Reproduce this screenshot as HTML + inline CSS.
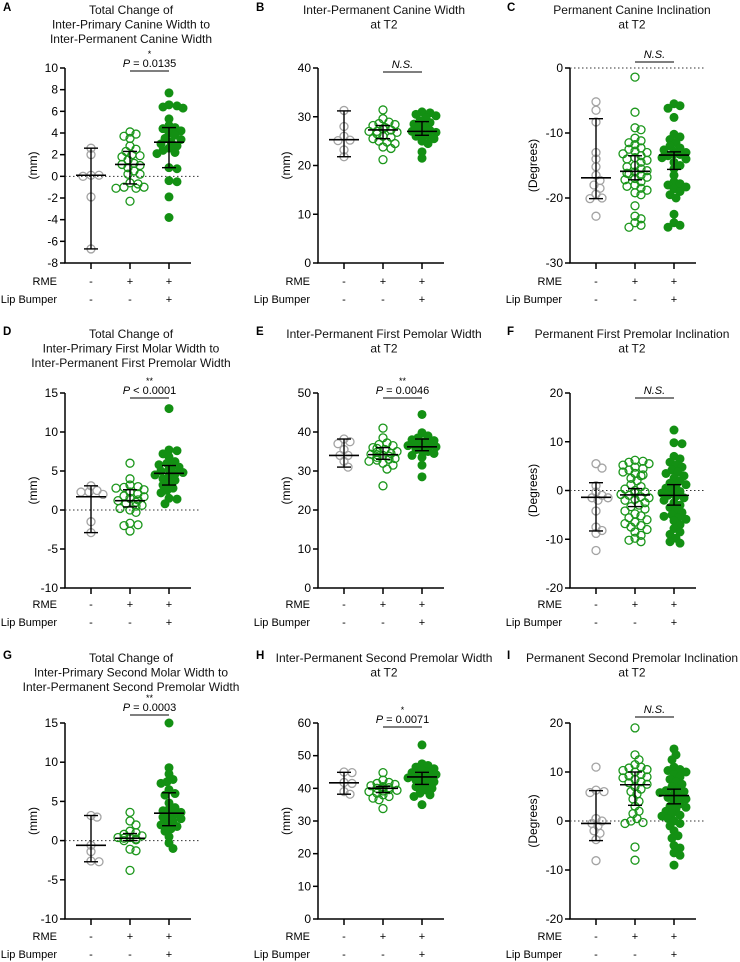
<!DOCTYPE html>
<html><head><meta charset="utf-8"><style>
html,body{margin:0;padding:0;background:#fff;}
svg{display:block;font-family:"Liberation Sans",Arial,sans-serif;}
</style></head><body>
<svg id="fig" width="740" height="962" viewBox="0 0 740 962" xmlns="http://www.w3.org/2000/svg"></svg>
<script>
// ---- data ----
const rmeLabels=['-','+','+'];
const lipLabels=['-','-','+'];
const A_g1=[2.6,2.0,0.1,0.1,0.0,-1.9,-6.7];
const A_g2=[4.1,3.9,3.7,3.5,2.8,2.5,2.3,2.0,1.9,1.8,1.5,1.2,1.1,1.0,0.8,0.2,0.2,-0.6,-0.7,-1.0,-1.1,-1.1,-1.0,-2.3,0.5];
const A_g3=[7.7,6.6,6.4,6.3,6.5,5.3,4.7,4.5,4.4,4.0,3.8,3.5,3.4,3.2,2.8,2.6,2.4,2.2,2.1,0.8,0.7,-0.4,-0.5,-1.9,-3.8,3.0,4.2];
const A_med=[0.1,1.1,3.15], A_lo=[-6.7,-0.7,0.8], A_hi=[2.6,2.3,4.5];
const B_g1=[31.3,28.0,26.0,25.2,25.1,23.2,21.8];
const B_g2=[31.4,29.6,28.9,28.6,28.4,28.2,27.8,27.5,27.3,27.0,26.8,26.5,26.0,25.8,25.5,25.0,24.8,24.5,23.8,23.5,21.2,27.0];
const B_g3=[31.0,30.8,30.5,30.2,29.8,29.2,28.5,28.0,27.5,27.2,27.0,26.8,26.5,26.2,26.0,25.5,25.0,24.5,22.8,21.5,28.8];
const B_med=[25.3,27.3,27.0], B_lo=[21.8,25.5,26.2], B_hi=[31.2,28.2,29.0];
const C_g1=[-5.2,-6.5,-8.3,-13,-14,-15.2,-16.5,-17.3,-18,-18.5,-19.4,-20,-20.1,-22.8];
const C_g2=[-1.4,-6.8,-9.2,-9.5,-10.8,-11.2,-11.5,-11.8,-12.3,-12.5,-13,-13.2,-13.5,-14,-14.2,-14.5,-15,-15.2,-15.5,-15.8,-16,-16.2,-16.5,-16.8,-17,-17.2,-17.5,-18,-18.2,-18.5,-18.8,-19.2,-19.5,-21.2,-22.8,-23.2,-23.8,-24.2,-24.5,-16.3,-13.8,-12.8];
const C_g3=[-5.5,-5.8,-6.2,-7.6,-10.2,-10.6,-11,-11.5,-12,-12.3,-12.6,-13,-13.2,-13.5,-13.8,-14,-14.5,-15,-15.5,-16.5,-17.5,-17.8,-18,-18.3,-18.6,-19,-19.5,-20,-22.5,-23.8,-24.2,-24.5,-12.8,-13.3];
const C_med=[-16.9,-15.9,-13.4], C_lo=[-20.1,-17.2,-15.6], C_hi=[-7.8,-13.5,-12.9];
const D_g1=[3.1,2.5,2.3,2.0,2.3,-1.5,-2.9];
const D_g2=[6.0,4.0,3.2,3.0,2.8,2.6,2.3,2.1,1.8,1.7,1.3,1.2,1.0,0.8,0.6,0.5,0.2,0.0,-0.3,-1.7,-1.9,-2.0,-2.7,2.9,1.5];
const D_g3=[13.0,7.7,7.6,7.2,6.8,6.2,6.0,5.5,5.3,5.2,5.0,4.8,4.6,4.3,4.0,3.8,3.5,3.2,2.8,2.5,2.2,1.5,1.4,0.8,5.8,4.5];
const D_med=[1.7,1.2,4.7], D_lo=[-2.9,0.4,3.2], D_hi=[3.1,2.6,5.7];
const E_g1=[38.2,37.5,37.0,35.5,34.0,32.5,31.0,34.0];
const E_g2=[41.0,38.5,37.2,36.8,36.5,36.0,35.5,35.0,34.8,34.5,34.2,34.0,33.8,33.5,33.2,33.0,32.8,32.5,32.0,31.5,30.5,26.2,35.8,34.3];
const E_g3=[44.5,39.8,39.0,38.5,38.0,37.5,37.2,37.0,36.8,36.5,36.2,36.0,35.8,35.5,35.2,35.0,34.5,34.0,33.5,31.5,28.5,36.3,37.8];
const E_med=[34,34.2,36.2], E_lo=[31,33.0,35.2], E_hi=[38.2,36.0,38.2];
const F_g1=[5.5,4.6,1.0,-0.3,-1.0,-1.5,-1.5,-2.0,-4.2,-7.5,-8.2,-8.8,-12.3];
const F_g2=[6.2,6.0,5.8,5.5,5.2,4.8,4.5,4.2,3.8,3.5,3.2,3.0,2.5,1.2,0.8,0.3,0.0,-0.3,-0.5,-0.8,-1.0,-1.3,-1.5,-2.0,-2.5,-3.0,-3.3,-3.8,-4.2,-4.8,-5.2,-6.0,-6.5,-6.8,-7.2,-7.5,-8.0,-8.5,-9.2,-9.8,-10.2,-10.5,2.0,-1.8,-5.6];
const F_g3=[12.4,9.8,9.6,7.0,6.5,5.8,5.2,4.8,4.2,3.8,3.5,3.0,2.5,2.0,1.5,1.0,0.5,0.0,-0.5,-1.0,-1.5,-2.0,-2.5,-3.0,-3.5,-4.0,-4.5,-5.0,-5.3,-5.6,-5.9,-6.2,-7.0,-7.8,-8.5,-9.0,-9.8,-10.5,-10.8,-0.2,-1.2,1.2];
const F_med=[-1.4,-0.9,-1.0], F_lo=[-8.3,-3.3,-3.0], F_hi=[1.6,0.4,1.2];
const G_g1=[3.2,3.0,-0.6,-1.4,-2.6,-2.7];
const G_g2=[3.6,2.5,2.0,1.2,1.0,0.6,0.4,0.3,0.2,0.1,0.0,0.4,-1.1,-1.3,-3.8,0.8];
const G_g3=[15.0,9.3,8.5,7.8,7.5,7.3,6.5,6.0,5.8,4.8,4.0,3.8,3.6,3.4,3.2,3.0,2.8,2.5,2.2,2.0,1.8,1.5,1.2,0.5,-0.3,-1.0,4.2];
const G_med=[-0.6,0.3,3.5], G_lo=[-2.7,0.0,1.9], G_hi=[3.2,0.9,6.1];
const H_g1=[45.0,44.8,41.8,41.5,39.0,38.2];
const H_g2=[44.8,42.5,41.8,41.2,40.8,40.5,40.3,40.0,39.8,39.6,39.4,39.2,39.0,38.5,38.0,37.5,37.0,36.5,33.8,40.2,41.5];
const H_g3=[53.3,47.5,47.0,46.5,46.0,45.5,45.0,44.8,44.5,44.2,44.0,43.8,43.5,43.2,43.0,42.8,42.5,42.0,41.5,41.0,40.5,40.0,39.5,38.5,38.0,37.5,35.0,43.6,44.6];
const H_med=[41.7,40.0,43.5], H_lo=[38.2,38.7,41.2], H_hi=[44.9,40.6,44.9];
const I_g1=[11.0,6.3,6.0,5.8,0.5,0.0,-0.5,-1.0,-2.0,-2.5,-3.8,-8.1];
const I_g2=[19.0,13.5,12.5,11.5,11.0,10.8,10.5,10.3,10.0,9.5,9.0,8.8,8.5,8.0,7.5,7.0,6.5,6.0,5.5,4.5,4.0,3.0,2.0,1.5,0.5,0.0,-0.3,-0.5,-5.3,-8.0,7.8,9.2];
const I_g3=[14.7,13.5,12.5,11.0,10.5,10.3,10.0,9.5,9.0,8.5,8.0,7.5,7.0,6.5,6.2,6.0,5.5,5.0,4.5,4.0,3.5,3.0,2.5,2.0,1.5,1.0,0.5,0.0,-0.5,-1.0,-2.0,-3.0,-3.5,-5.0,-5.5,-6.5,-7.0,-9.0,5.8,4.8,2.8,1.2];
const I_med=[-0.5,7.4,5.2], I_lo=[-4.0,3.2,3.5], I_hi=[6.2,10.0,6.5];
const A_ticks=[-8,-6,-4,-2,0,2,4,6,8,10];
const B_ticks=[0,10,20,30,40];
const C_ticks=[-30,-20,-10,0];
const D_ticks=[-10,-5,0,5,10,15];
const E_ticks=[0,10,20,30,40,50];
const F_ticks=[-20,-10,0,10,20];
const G_ticks=[-10,-5,0,5,10,15];
const H_ticks=[0,10,20,30,40,50,60];
const I_ticks=[-20,-10,0,10,20];

const NS='http://www.w3.org/2000/svg';
const svg=document.getElementById('fig');
function mk(tag,attrs,parent){const e=document.createElementNS(NS,tag);for(const k in attrs)e.setAttribute(k,attrs[k]);(parent||svg).appendChild(e);return e;}
function txt(s,attrs,parent){const e=mk('text',attrs,parent);e.textContent=s;return e;}

const cols=[65,318,570];
const titleOff=[66,66,62];
const rows=[{top:68,bot:263,rme:282,lip:300,title:10},{top:393,bot:588,rme:605,lip:623,title:334},{top:723,bot:919,rme:937,lip:955,title:658}];
const letterX=[3,256,507];
const colors=['#a3a3a3','#1a961a','#139013'];

const panels=[
 {id:'A',c:0,r:0,title:['Total Change of','Inter-Primary Canine Width to','Inter-Permanent Canine Width'],yt:'(mm)',ticks:A_ticks,g:[A_g1,A_g2,A_g3],med:A_med,lo:A_lo,hi:A_hi,zero:true,star:'*',p:'P = 0.0135',sig:3},
 {id:'B',c:1,r:0,title:['Inter-Permanent Canine Width','at T2'],yt:'(mm)',ticks:B_ticks,g:[B_g1,B_g2,B_g3],med:B_med,lo:B_lo,hi:B_hi,zero:false,star:'',p:'N.S.',sig:4},
 {id:'C',c:2,r:0,title:['Permanent Canine Inclination','at T2'],yt:'(Degrees)',ticks:C_ticks,g:[C_g1,C_g2,C_g3],med:C_med,lo:C_lo,hi:C_hi,zero:true,star:'',p:'N.S.',sig:-6},
 {id:'D',c:0,r:1,title:['Total Change of','Inter-Primary First Molar Width to','Inter-Permanent First Premolar Width'],yt:'(mm)',ticks:D_ticks,g:[D_g1,D_g2,D_g3],med:D_med,lo:D_lo,hi:D_hi,zero:true,star:'**',p:'P < 0.0001',sig:5},
 {id:'E',c:1,r:1,title:['Inter-Permanent First Pemolar Width','at T2'],yt:'(mm)',ticks:E_ticks,g:[E_g1,E_g2,E_g3],med:E_med,lo:E_lo,hi:E_hi,zero:false,star:'**',p:'P = 0.0046',sig:5},
 {id:'F',c:2,r:1,title:['Permanent First Premolar Inclination','at T2'],yt:'(Degrees)',ticks:F_ticks,g:[F_g1,F_g2,F_g3],med:F_med,lo:F_lo,hi:F_hi,zero:true,star:'',p:'N.S.',sig:5},
 {id:'G',c:0,r:2,title:['Total Change of','Inter-Primary Second Molar Width to','Inter-Permanent Second Premolar Width'],yt:'(mm)',ticks:G_ticks,g:[G_g1,G_g2,G_g3],med:G_med,lo:G_lo,hi:G_hi,zero:true,star:'**',p:'P = 0.0003',sig:-8},
 {id:'H',c:1,r:2,title:['Inter-Permanent Second Premolar Width','at T2'],yt:'(mm)',ticks:H_ticks,g:[H_g1,H_g2,H_g3],med:H_med,lo:H_lo,hi:H_hi,zero:false,star:'*',p:'P = 0.0071',sig:4},
 {id:'I',c:2,r:2,title:['Permanent Second Premolar Inclination','at T2'],yt:'(Degrees)',ticks:I_ticks,g:[I_g1,I_g2,I_g3],med:I_med,lo:I_lo,hi:I_hi,zero:true,star:'',p:'N.S.',sig:-6},
];

function swarm(vals,yf,cx){
  const placed=[];const R=6.2;const MAX=14;
  const sorted=vals.slice().sort((a,b)=>b-a);
  sorted.forEach(v=>{
    const y=yf(v);let best=null;
    const cands=[0];for(let k=1;k<8;k++){cands.push(k*2,-k*2);}
    for(const dx of cands){
      if(placed.every(p=>Math.hypot(p.x-(cx+dx),p.y-y)>=R)){best=dx;break;}
    }
    if(best===null){best=(placed.length%3-1)*6;}
    if(Math.abs(best)>MAX)best=Math.sign(best)*MAX;
    placed.push({x:cx+best,y:y});
  });
  return placed;
}

panels.forEach(P=>{
  const ax=cols[P.c], R=rows[P.r];
  const g=mk('g',{});
  
  
  const t0=P.ticks[0], t1=P.ticks[P.ticks.length-1];
  const yf=v=>R.bot-(v-t0)/(t1-t0)*(R.bot-R.top);
  const xs=[ax+26,ax+65,ax+104];
  const lt=txt(P.id,{x:letterX[P.c],y:R.title-2,'font-size':11.5,'font-weight':'bold','dominant-baseline':'central'},g);
  
  
  P.title.forEach((s,i)=>{
    const t=txt(s,{x:ax+titleOff[P.c],y:R.title+i*14.5,'font-size':12,'text-anchor':'middle','dominant-baseline':'central',fill:'#111'},g);
    
    
  });
  const ya=mk('line',{x1:ax,y1:R.top,x2:ax,y2:R.bot,stroke:'#000','stroke-width':1.5},g);
  
  
  const xa=mk('line',{x1:ax-0.7,y1:R.bot,x2:ax+126,y2:R.bot,stroke:'#000','stroke-width':1.5},g);
  
  
  P.ticks.forEach(tv=>{
    const y=yf(tv);
    mk('line',{x1:ax-5,y1:y,x2:ax,y2:y,stroke:'#000','stroke-width':1.5},g);
    const tl=txt(String(tv),{x:ax-7,y:y,'font-size':12,'text-anchor':'end','dominant-baseline':'central'},g);
    
    
  });
  const ytl=txt(P.yt,{x:0,y:0,'font-size':12,'text-anchor':'middle','dominant-baseline':'central',transform:`translate(${ax-(P.yt==='(mm)'?32:37)},${(R.top+R.bot)/2}) rotate(-90)`},g);
  
  
  if(P.zero){
    const zl=mk('line',{x1:ax,y1:yf(0),x2:ax+135,y2:yf(0),stroke:'#333','stroke-width':1,'stroke-dasharray':'1.5,2.5'},g);
    
    
  }
  xs.forEach((x,i)=>{
    mk('line',{x1:x,y1:R.bot,x2:x,y2:R.bot+6,stroke:'#000','stroke-width':1.5},g);
    const a=txt(rmeLabels[i],{x:x,y:R.rme,'font-size':11,'text-anchor':'middle','dominant-baseline':'central'},g);
    
    
    const b=txt(lipLabels[i],{x:x,y:R.lip,'font-size':11,'text-anchor':'middle','dominant-baseline':'central'},g);
    
    
  });
  const r1=txt('RME',{x:ax-8,y:R.rme,'font-size':11,'text-anchor':'end','dominant-baseline':'central'},g);
  
  
  const r2=txt('Lip Bumper',{x:ax-8,y:R.lip,'font-size':11,'text-anchor':'end','dominant-baseline':'central'},g);
  
  
  P.g.forEach((vals,gi)=>{
    swarm(vals,yf,xs[gi]).forEach(p=>{
      const c=mk('circle',{cx:p.x,cy:p.y,r:gi===2?4.5:4.0,fill:gi===2?colors[2]:'none',stroke:colors[gi],'stroke-width':gi===2?0:1.3},g);
      
      
    });
  });
  xs.forEach((x,i)=>{
    const m=mk('line',{x1:x-15,y1:yf(P.med[i]),x2:x+15,y2:yf(P.med[i]),stroke:'#000','stroke-width':1.6},g);
    
    
    mk('line',{x1:x,y1:yf(P.lo[i]),x2:x,y2:yf(P.hi[i]),stroke:'#000','stroke-width':1.4},g);
    mk('line',{x1:x-7,y1:yf(P.lo[i]),x2:x+7,y2:yf(P.lo[i]),stroke:'#000','stroke-width':1.4},g);
    mk('line',{x1:x-7,y1:yf(P.hi[i]),x2:x+7,y2:yf(P.hi[i]),stroke:'#000','stroke-width':1.4},g);
  });
  const sy=R.top+P.sig;
  const sb=mk('line',{x1:xs[1],y1:sy,x2:xs[2],y2:sy,stroke:'#333','stroke-width':1.3},g);
  
  
  let pt;
  if(P.p==='N.S.'){
    pt=txt('N.S.',{x:(xs[1]+xs[2])/2,y:sy-7,'font-size':11,'font-style':'italic','text-anchor':'middle','dominant-baseline':'central'},g);
  }else{
    pt=mk('text',{x:(xs[1]+xs[2])/2,y:sy-7,'font-size':11,'text-anchor':'middle','dominant-baseline':'central'},g);
    const ts=mk('tspan',{'font-style':'italic'},pt);ts.textContent='P';
    const ts2=mk('tspan',{},pt);ts2.textContent=P.p.slice(1);
    const st=txt(P.star,{x:(xs[1]+xs[2])/2,y:sy-17,'font-size':9,'text-anchor':'middle','dominant-baseline':'central'},g);
    
    
  }
  
  
});
</script>
</body></html>
